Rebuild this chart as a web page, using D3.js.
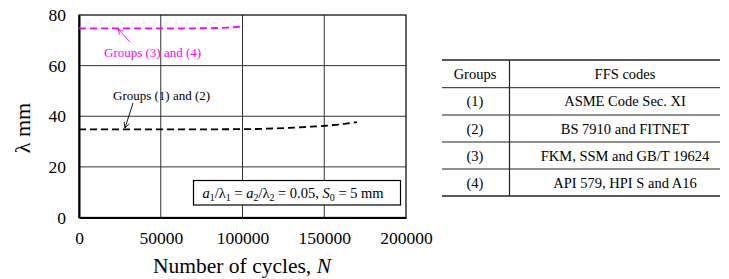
<!DOCTYPE html>
<html>
<head>
<meta charset="utf-8">
<script src="https://cdn.jsdelivr.net/npm/d3@7"></script>
<style>
  body { margin: 0; background: #fff; }
  svg text { font-family: "Liberation Serif", "Times New Roman", serif; }
</style>
</head>
<body>
<div id="chart"></div>
<script>
// curve data
var cyclesA = [0, 20000, 50000, 80000, 90000, 95000, 100000, 101000];
var lambdaA = [74.7, 74.7, 74.7, 74.8, 75.0, 75.2, 75.6, 75.8];   // groups (3) and (4)
var cyclesB = [0, 50000, 100000, 120000, 140000, 150000, 160000, 170000];
var lambdaB = [34.8, 34.8, 34.9, 35.2, 35.8, 36.2, 36.8, 37.7];   // groups (1) and (2)

var xTicks = [0, 50000, 100000, 150000, 200000];
var yTicks = [0, 20, 40, 60, 80];

var groupCol = ["(1)", "(2)", "(3)", "(4)"];
var codeCol = ["ASME Code Sec. XI", "BS 7910 and FITNET", "FKM, SSM and GB/T 19624", "API 579, HPI S and A16"];

var w = 729, h = 279;
var pLeft = 79, pRight = 406, pTop = 15, pBottom = 217.5;
var serif = "Liberation Serif, Times New Roman, serif";

var svg = d3.select("#chart").append("svg")
    .attr("width", w)
    .attr("height", h)
    .attr("font-family", serif);

var xScale = d3.scaleLinear().domain([0, 200000]).range([pLeft, pRight]);
var yScale = d3.scaleLinear().domain([0, 80]).range([pBottom, pTop]);

// grid
svg.append("g").selectAll("line")
    .data(xTicks.slice(1, -1))
    .join("line")
    .attr("x1", d => xScale(d)).attr("x2", d => xScale(d))
    .attr("y1", pTop).attr("y2", pBottom)
    .attr("stroke", "#333").attr("stroke-width", 1);
svg.append("g").selectAll("line")
    .data(yTicks.slice(1, -1))
    .join("line")
    .attr("y1", d => yScale(d)).attr("y2", d => yScale(d))
    .attr("x1", pLeft).attr("x2", pRight)
    .attr("stroke", "#333").attr("stroke-width", 1);

svg.append("rect")
    .attr("x", pLeft).attr("y", pTop)
    .attr("width", pRight - pLeft).attr("height", pBottom - pTop)
    .attr("fill", "none").attr("stroke", "#111").attr("stroke-width", 1.3);

// axes
var xAxis = d3.axisBottom(xScale).tickValues(xTicks).tickSize(0).tickPadding(14).tickFormat(d3.format("d"));
var yAxis = d3.axisLeft(yScale).tickValues(yTicks).tickSize(0).tickPadding(13);

var gx = svg.append("g").attr("transform", "translate(0," + pBottom + ")").call(xAxis);
var gy = svg.append("g").attr("transform", "translate(" + pLeft + ",0)").call(yAxis);
[gx, gy].forEach(function(g) {
    g.attr("font-family", serif);
    g.select(".domain").attr("stroke", "#000").attr("stroke-width", 2);
    g.selectAll("text").attr("font-size", 17.5).attr("fill", "#000");
});

svg.append("text")
    .attr("x", 242).attr("y", 273)
    .attr("text-anchor", "middle")
    .attr("font-size", 21.5)
    .html('Number of cycles, <tspan font-style="italic">N</tspan>');

svg.append("text")
    .attr("transform", "translate(30,128) rotate(-90)")
    .attr("text-anchor", "middle")
    .attr("font-size", 22)
    .text("λ mm");

// curves
var line = d3.line().curve(d3.curveMonotoneX);
svg.append("path")
    .attr("d", line(cyclesA.map((c, i) => [xScale(c), yScale(lambdaA[i])])))
    .attr("fill", "none").attr("stroke", "#ff00ff")
    .attr("stroke-width", 1.8).attr("stroke-dasharray", "7,4");
svg.append("path")
    .attr("d", line(cyclesB.map((c, i) => [xScale(c), yScale(lambdaB[i])])))
    .attr("fill", "none").attr("stroke", "#000")
    .attr("stroke-width", 1.8).attr("stroke-dasharray", "7,4");

// annotations
function arrow(x1, y1, x2, y2, color) {
    var ang = Math.atan2(y2 - y1, x2 - x1), len = 6, sp = 0.45;
    svg.append("line").attr("x1", x1).attr("y1", y1).attr("x2", x2).attr("y2", y2)
        .attr("stroke", color).attr("stroke-width", 0.9);
    svg.append("path")
        .attr("d", "M" + (x2 - len * Math.cos(ang - sp)) + "," + (y2 - len * Math.sin(ang - sp)) +
            "L" + x2 + "," + y2 +
            "L" + (x2 - len * Math.cos(ang + sp)) + "," + (y2 - len * Math.sin(ang + sp)))
        .attr("fill", "none").attr("stroke", color).attr("stroke-width", 0.9);
}
arrow(130, 42, 118, 29, "#ff00ff");
svg.append("text").attr("x", 104).attr("y", 57)
    .attr("font-size", 13).attr("fill", "#ff00ff")
    .text("Groups (3) and (4)");

arrow(133, 103, 125, 128, "#000");
svg.append("text").attr("x", 113).attr("y", 100)
    .attr("font-size", 13).attr("fill", "#000")
    .text("Groups (1) and (2)");

svg.append("rect")
    .attr("x", 193.5).attr("y", 180.5).attr("width", 207).attr("height", 24.5)
    .attr("fill", "#fff").attr("stroke", "#000").attr("stroke-width", 1.2);
svg.append("text").attr("x", 293).attr("y", 197.5)
    .attr("text-anchor", "middle").attr("font-size", 14.5)
    .html('<tspan font-style="italic">a</tspan><tspan font-size="10" dy="3">1</tspan><tspan dy="-3">/λ</tspan><tspan font-size="10" dy="3">1</tspan><tspan dy="-3"> = </tspan><tspan font-style="italic">a</tspan><tspan font-size="10" dy="3">2</tspan><tspan dy="-3">/λ</tspan><tspan font-size="10" dy="3">2</tspan><tspan dy="-3"> = 0.05, </tspan><tspan font-style="italic">S</tspan><tspan font-size="10" dy="3">0</tspan><tspan dy="-3"> = 5 mm</tspan>');

// table
var tLeft = 442, tRight = 720, tDiv = 509.5;
var rowY = [60, 87.7, 115, 142, 169, 196];
var rows = [["Groups", "FFS codes"]].concat(groupCol.map((g, i) => [g, codeCol[i]]));

var tab = svg.append("g");
tab.selectAll("line.h")
    .data(rowY)
    .join("line")
    .attr("x1", tLeft).attr("x2", tRight)
    .attr("y1", d => d).attr("y2", d => d)
    .attr("stroke", "#222")
    .attr("stroke-width", (d, i) => (i === 0 || i === rowY.length - 1) ? 1.4 : 1);
tab.append("line")
    .attr("x1", tDiv).attr("x2", tDiv)
    .attr("y1", rowY[0]).attr("y2", rowY[rowY.length - 1])
    .attr("stroke", "#222").attr("stroke-width", 1.2);

rows.forEach(function(r, i) {
    var yc = (rowY[i] + rowY[i + 1]) / 2 + 5;
    tab.append("text").attr("x", 475).attr("y", yc)
        .attr("text-anchor", "middle").attr("font-size", 14.5).text(r[0]);
    tab.append("text").attr("x", 625).attr("y", yc)
        .attr("text-anchor", "middle").attr("font-size", 14.5).text(r[1]);
});
</script>
</body>
</html>
